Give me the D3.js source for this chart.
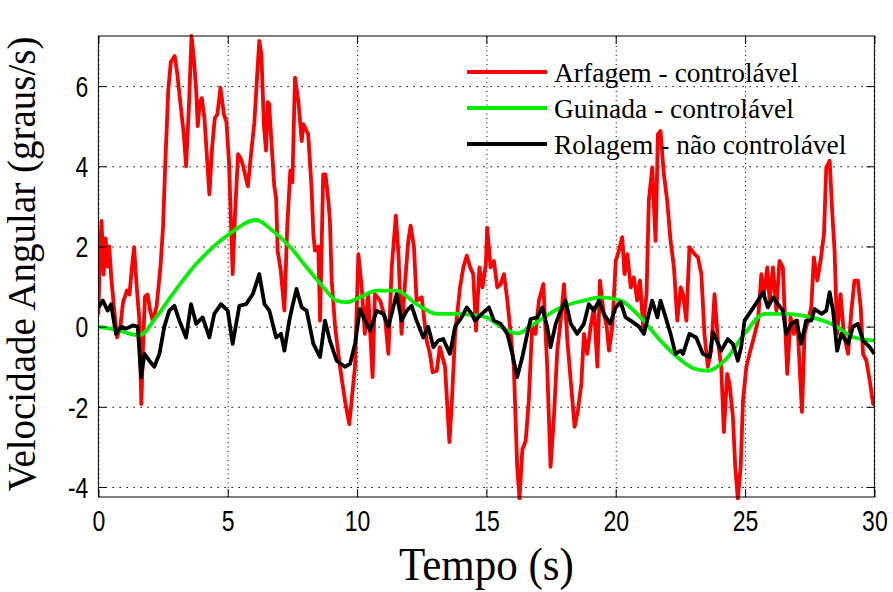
<!DOCTYPE html>
<html>
<head>
<meta charset="utf-8">
<script src="https://cdn.jsdelivr.net/npm/d3@7"></script>
<style>
  body { margin: 0; background: #fff; }
  svg { display: block; }
</style>
</head>
<body>
<div id="chart"></div>
<script>
// angular velocity of the three axes over 30 s

const xTicks = [0, 5, 10, 15, 20, 25, 30];
const yTicks = [-4, -2, 0, 2, 4, 6];

const legendLabels = ["Arfagem - controlável", "Guinada - controlável", "Rolagem - não controlável"];

// Arfagem (pitch) - red
const arfagemT = [0.00,0.06,0.12,0.2,0.28,0.35,0.42,0.5,0.6,0.72,0.85,0.95,1.1,1.2,1.3,1.38,1.48,1.58,1.66,1.72,1.8,1.9,2.0,2.1,2.25,2.4,2.5,2.58,2.7,2.8,2.95,3.05,3.2,3.3,3.39,3.5,3.6,3.7,3.78,3.84,3.92,4.0,4.1,4.2,4.29,4.4,4.5,4.6,4.72,4.85,4.95,5.05,5.12,5.19,5.28,5.4,5.5,5.6,5.7,5.78,5.9,6.03,6.15,6.22,6.3,6.4,6.48,6.55,6.6,6.7,6.8,6.87,6.93,7.05,7.19,7.3,7.42,7.5,7.6,7.73,7.86,7.92,8.11,8.24,8.31,8.37,8.5,8.57,8.69,8.78,8.89,8.95,9.02,9.15,9.34,9.53,9.7,9.79,9.92,10.05,10.18,10.3,10.43,10.6,10.69,10.89,11.08,11.21,11.34,11.5,11.6,11.72,11.85,11.98,12.07,12.2,12.3,12.5,12.69,12.82,12.92,13.08,13.2,13.4,13.57,13.66,13.79,13.98,14.11,14.24,14.37,14.49,14.6,14.73,14.85,14.98,15.03,15.16,15.29,15.42,15.55,15.68,15.81,15.94,16.06,16.19,16.28,16.39,16.52,16.64,16.77,16.9,17.03,17.2,17.35,17.48,17.61,17.74,17.87,18.0,18.13,18.26,18.41,18.54,18.67,18.77,18.9,19.03,19.16,19.29,19.39,19.52,19.65,19.74,19.87,20.0,20.12,20.25,20.34,20.45,20.58,20.7,20.83,20.94,21.06,21.19,21.28,21.41,21.54,21.63,21.73,21.86,21.99,22.12,22.25,22.38,22.51,22.6,22.73,22.85,23.05,23.18,23.31,23.43,23.56,23.69,23.82,23.95,24.08,24.18,24.31,24.4,24.53,24.62,24.72,24.83,24.92,25.05,25.17,25.34,25.5,25.63,25.73,25.86,25.95,26.08,26.21,26.33,26.46,26.63,26.76,26.89,27.02,27.2,27.3,27.43,27.56,27.66,27.79,27.92,28.05,28.14,28.27,28.36,28.46,28.56,28.69,28.82,28.98,29.11,29.23,29.36,29.47,29.56,29.69,29.82,29.95,30.0];
const arfagemV = [0.3,1.8,2.64,1.3,2.2,1.5,2.0,1.2,0.5,-0.27,0.0,0.6,0.9,0.8,1.5,1.98,1.0,0.2,-1.93,-0.6,0.75,0.8,0.4,0.15,0.5,1.5,2.5,3.97,5.9,6.6,6.75,6.3,5.4,4.8,4.0,5.5,7.25,6.6,5.9,5.0,5.6,5.7,5.2,4.2,3.3,4.5,5.2,5.3,5.96,5.3,5.1,4.1,2.7,1.31,2.8,4.3,4.2,4.0,3.7,3.5,4.3,5.1,6.4,7.13,6.8,5.0,4.39,5.6,5.55,4.5,3.5,3.2,1.89,1.4,0.4,2.5,3.9,3.6,6.21,5.63,4.63,5.05,4.8,3.47,2.31,1.9,2.0,0.15,3.8,3.8,3.14,2.64,1.15,0.0,-1.0,-1.84,-2.43,-1.84,-1.0,1.81,0.98,-0.18,0.81,-1.26,0.81,0.65,0.23,-0.68,1.48,2.77,1.81,-0.18,1.06,2.14,2.52,1.98,0.65,0.73,-0.35,-0.68,-1.14,-1.1,-0.51,-1.0,-2.88,-1.93,-0.18,0.98,1.48,1.77,1.48,1.31,-0.1,1.48,0.98,1.56,2.47,1.48,1.64,0.98,1.06,1.31,0.65,-0.18,-1.0,-3.5,-4.29,-3.07,-2.84,-1.84,0.0,-0.18,0.65,1.06,-1.0,-3.5,-2.25,-0.6,0.15,1.06,-0.35,-1.35,-2.5,-2.08,-1.43,-0.18,-0.68,0.0,0.48,-1.0,1.15,0.4,0.0,-0.6,0.0,1.64,1.89,2.23,1.31,1.81,0.98,1.23,0.65,1.15,0.0,0.81,3.14,3.97,2.14,4.8,4.88,3.8,3.14,2.14,1.48,0.15,0.98,0.81,0.15,1.98,1.81,1.73,1.31,-0.18,-1.0,-0.6,0.81,-0.35,-1.0,-2.63,-1.18,-1.43,-2.25,-3.5,-4.29,-3.5,-1.84,-1.0,-0.68,-0.27,0.15,1.31,0.81,1.48,0.65,1.48,0.4,1.64,1.48,-1.18,0.23,-0.18,0.15,-2.13,-0.18,0.15,0.48,1.73,1.15,1.64,2.31,3.97,4.14,2.97,1.89,-0.18,0.81,-0.18,-0.68,0.4,1.15,1.15,0.48,-0.68,-0.85,-1.35,-1.93,-1.95];

// Guinada (yaw) - green
const guinadaT = [0,0.68,1.58,2.23,2.87,3.78,5.06,6.1,6.74,7.45,8.05,8.7,9.21,9.6,10.11,10.76,11.53,12.3,13.08,13.85,14.36,15.0,15.55,16.19,16.84,17.87,18.77,19.41,20.19,20.96,21.73,22.45,23.05,23.56,24.21,24.98,25.75,26.53,27.56,28.33,29.23,30];
const guinadaV = [0.0,-0.08,-0.22,0.23,0.81,1.56,2.31,2.66,2.39,1.96,1.48,0.98,0.65,0.61,0.73,0.9,0.9,0.56,0.32,0.32,0.3,0.23,0.0,-0.17,0.07,0.48,0.65,0.73,0.65,0.23,-0.35,-0.8,-1.05,-1.1,-0.85,-0.18,0.32,0.32,0.23,0.07,-0.27,-0.35];

// Rolagem (roll) - black
const rolagemT = [0.0,0.17,0.36,0.49,0.68,0.88,1.07,1.33,1.52,1.65,1.78,1.97,2.16,2.36,2.55,2.74,2.94,3.13,3.39,3.58,3.78,4.03,4.29,4.48,4.74,5.0,5.19,5.45,5.71,5.97,6.22,6.42,6.61,6.87,7.06,7.19,7.38,7.49,7.66,7.86,8.05,8.31,8.57,8.76,8.95,9.21,9.53,9.73,9.92,10.11,10.31,10.5,10.76,11.01,11.21,11.4,11.53,11.72,11.92,12.11,12.3,12.56,12.75,12.95,13.14,13.33,13.59,13.79,14.04,14.24,14.43,14.56,14.82,15.1,15.29,15.55,15.81,16.0,16.19,16.39,16.58,16.71,16.97,17.16,17.35,17.48,17.68,17.87,18.06,18.26,18.51,18.77,18.96,19.16,19.35,19.54,19.78,20.0,20.19,20.38,20.58,20.9,21.09,21.28,21.41,21.61,21.73,21.93,22.12,22.31,22.51,22.6,22.85,23.11,23.37,23.63,23.76,24.08,24.33,24.53,24.72,24.85,24.98,25.24,25.5,25.69,25.88,26.08,26.27,26.46,26.59,26.79,26.98,27.17,27.36,27.56,27.69,27.95,28.14,28.27,28.4,28.56,28.72,28.98,29.17,29.36,29.56,29.82,30];
const rolagemV = [0.48,0.65,0.4,0.56,-0.18,0.0,-0.05,0.03,0.0,-1.26,-0.68,-0.85,-1.0,-0.68,0.0,0.4,0.52,0.15,-0.27,0.56,0.07,0.23,-0.27,0.32,0.56,0.4,-0.43,0.52,0.56,0.81,1.31,0.56,0.4,-0.27,-0.18,-0.6,0.15,0.48,0.94,0.48,0.4,-0.43,-0.76,0.15,-0.35,-0.85,-1.0,-0.93,-0.43,0.44,0.15,-0.1,0.4,0.32,0.0,0.48,0.81,0.15,0.4,0.52,0.15,-0.27,0.0,-0.51,-0.35,-0.31,-0.68,0.0,0.23,0.48,0.32,0.15,0.32,0.48,0.15,0.07,-0.18,-0.68,-1.26,-0.76,-0.18,0.19,0.23,0.48,0.0,-0.51,0.07,0.4,0.65,0.07,-0.18,0.07,0.56,0.4,0.65,0.32,0.07,0.48,0.61,0.23,0.15,0.0,-0.18,0.32,0.65,0.23,0.65,0.23,-0.18,-0.68,-0.6,-0.68,-0.18,-0.27,-0.68,-0.76,-0.14,-0.6,-0.31,-0.43,-0.85,-0.51,0.15,0.4,0.65,0.86,0.48,0.73,0.56,0.4,-0.18,0.07,0.15,-0.43,0.15,0.15,0.44,0.32,0.4,0.86,0.4,-0.6,-0.18,-0.43,0.0,0.07,-0.35,-0.51,-0.68];

const series = [
  { t: arfagemT, v: arfagemV, color: "#ff0000", label: legendLabels[0], curve: d3.curveLinear },
  { t: guinadaT, v: guinadaV, color: "#00f000", label: legendLabels[1], curve: d3.curveMonotoneX },
  { t: rolagemT, v: rolagemV, color: "#000000", label: legendLabels[2], curve: d3.curveLinear }
];

const W = 893, H = 592;
const margin = { top: 36, right: 18.6, bottom: 95, left: 98.4 };
const width = W - margin.left - margin.right;
const height = H - margin.top - margin.bottom;

const svg = d3.select("#chart").append("svg")
  .attr("width", W)
  .attr("height", H);

svg.append("rect").attr("width", W).attr("height", H).attr("fill", "#fff");

const g = svg.append("g")
  .attr("transform", `translate(${margin.left},${margin.top})`);

const x = d3.scaleLinear().domain([0, 30]).range([0, width]);
const y = d3.scaleLinear().domain([-4.25, 7.25]).range([height, 0]);

// grid
g.append("g")
  .attr("class", "grid")
  .attr("transform", `translate(0,${height})`)
  .call(d3.axisBottom(x).tickValues(xTicks).tickSize(-height).tickFormat(""))
  .call(a => a.select(".domain").remove())
  .call(a => a.selectAll("line").attr("stroke", "#000").attr("stroke-width", 1).attr("stroke-dasharray", "1,3.5"));

g.append("g")
  .attr("class", "grid")
  .call(d3.axisLeft(y).tickValues(yTicks).tickSize(-width).tickFormat(""))
  .call(a => a.select(".domain").remove())
  .call(a => a.selectAll("line").attr("stroke", "#000").attr("stroke-width", 1).attr("stroke-dasharray", "1.5,5.5"));

// lines
g.append("clipPath").attr("id", "clip")
  .append("rect").attr("y", -3).attr("width", width).attr("height", height + 6);

series.forEach(s => {
  const pts = s.t.map((t, i) => [t, s.v[i]]);
  g.append("path")
    .datum(pts)
    .attr("clip-path", "url(#clip)")
    .attr("fill", "none")
    .attr("stroke", s.color)
    .attr("stroke-width", 3.8)
    .attr("stroke-linejoin", "round")
    .attr("d", d3.line().x(d => x(d[0])).y(d => y(d[1])).curve(s.curve));
});

// axes with inward ticks on all four sides
const tickFont = "'Liberation Sans', Arial, sans-serif";
const stretch = 1.25; // tick labels are tall and narrow in the original
const plain = d => String(d); // hyphen minus, as in the original

g.append("g")
  .attr("transform", `translate(0,${height})`)
  .call(d3.axisBottom(x).tickValues(xTicks).tickFormat(plain).tickSizeInner(-8).tickSizeOuter(0))
  .call(a => a.select(".domain").remove())
  .call(a => a.selectAll("text")
    .attr("font-family", tickFont).attr("font-size", 23).attr("fill", "#000")
    .attr("dy", null).attr("y", 34 / stretch)
    .attr("transform", `scale(1,${stretch})`));

g.append("g")
  .call(d3.axisLeft(y).tickValues(yTicks).tickFormat(plain).tickSizeInner(-8).tickSizeOuter(0).tickPadding(10))
  .call(a => a.select(".domain").remove())
  .call(a => a.selectAll("text")
    .attr("font-family", tickFont).attr("font-size", 23).attr("fill", "#000")
    .attr("dy", "0.36em")
    .attr("transform", `scale(1,${stretch})`));

g.append("g")
  .call(d3.axisTop(x).tickValues(xTicks).tickSizeInner(-8).tickSizeOuter(0).tickFormat(""))
  .call(a => a.select(".domain").remove());

g.append("g")
  .attr("transform", `translate(${width},0)`)
  .call(d3.axisRight(y).tickValues(yTicks).tickSizeInner(-8).tickSizeOuter(0).tickFormat(""))
  .call(a => a.select(".domain").remove());

// frame
g.append("rect")
  .attr("width", width).attr("height", height)
  .attr("fill", "none").attr("stroke", "#000").attr("stroke-width", 1);

// axis titles
const serif = "'Liberation Serif', 'Times New Roman', serif";

svg.append("text")
  .attr("transform", `translate(${margin.left + width / 2},580) scale(1,1.1)`)
  .attr("text-anchor", "middle")
  .attr("font-family", serif)
  .attr("font-size", 43)
  .text("Tempo (s)");

svg.append("text")
  .attr("transform", `translate(35,264) rotate(-90)`)
  .attr("text-anchor", "middle")
  .attr("font-family", serif)
  .attr("font-size", 39)
  .text("Velocidade Angular (graus/s)");

// legend
const legend = svg.append("g").attr("transform", "translate(467,72)");
series.forEach((s, i) => {
  const row = legend.append("g").attr("transform", `translate(0,${i * 36})`);
  row.append("line")
    .attr("x1", 0).attr("x2", 80)
    .attr("stroke", s.color).attr("stroke-width", 3.8);
  row.append("text")
    .attr("x", 87).attr("y", 10)
    .attr("font-family", serif)
    .attr("font-size", 27.5)
    .text(s.label);
});
</script>
</body>
</html>
